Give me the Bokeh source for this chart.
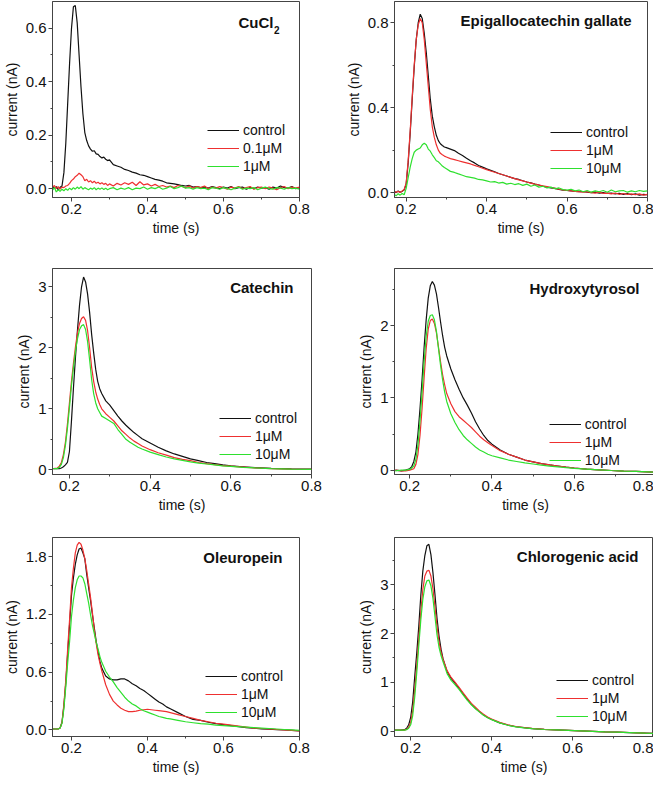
from bokeh.plotting import figure
from bokeh.layouts import gridplot
from bokeh.models import (FixedTicker, NumeralTickFormatter, Label, Legend,
                          LegendItem, Range1d)
from bokeh.embed import file_html
from bokeh.resources import INLINE

# ---------------- DATA ----------------
# Panel 1: CuCl2
cucl_t = [0.150, 0.155, 0.160, 0.165, 0.170, 0.175, 0.180, 0.185, 0.190, 0.195,
          0.200, 0.205, 0.210, 0.215, 0.220, 0.225, 0.230, 0.235, 0.240, 0.245,
          0.250, 0.255, 0.260, 0.265, 0.270, 0.275, 0.280, 0.285, 0.290, 0.295,
          0.300, 0.31, 0.32, 0.33, 0.34, 0.35, 0.36, 0.37, 0.38, 0.39,
          0.40, 0.41, 0.42, 0.43, 0.44, 0.45, 0.46, 0.47, 0.48, 0.49,
          0.50, 0.51, 0.52, 0.53, 0.54, 0.55, 0.56, 0.57, 0.58, 0.59,
          0.60, 0.61, 0.62, 0.63, 0.64, 0.65, 0.66, 0.67, 0.68, 0.69,
          0.70, 0.71, 0.72, 0.73, 0.74, 0.75, 0.76, 0.77, 0.78, 0.79,
          0.80]
cucl_control = [0.010, 0.000, 0.008, -0.005, 0.005, 0.010, 0.060, 0.170, 0.320, 0.470,
                0.600, 0.680, 0.685, 0.620, 0.500, 0.380, 0.280, 0.210, 0.180, 0.160,
                0.148, 0.140, 0.142, 0.130, 0.128, 0.120, 0.115, 0.118, 0.110, 0.105,
                0.108, 0.090, 0.085, 0.080, 0.072, 0.068, 0.062, 0.058, 0.052, 0.050,
                0.045, 0.040, 0.035, 0.032, 0.028, 0.022, 0.020, 0.018, 0.015, 0.012,
                0.010, 0.012, 0.006, 0.008, 0.004, 0.006, 0.002, 0.008, 0.004, 0.000,
                0.006, 0.002, 0.008, 0.000, 0.004, 0.006, -0.002, 0.004, 0.000, 0.006,
                0.002, 0.004, -0.002, 0.006, 0.002, 0.010, 0.004, 0.002, 0.008, 0.000,
                0.004]
cucl_01uM = [0.005, 0.012, 0.000, 0.008, -0.002, 0.006, 0.004, 0.010, 0.012, 0.020,
             0.030, 0.036, 0.045, 0.050, 0.058, 0.052, 0.045, 0.030, 0.035, 0.025,
             0.030, 0.022, 0.028, 0.020, 0.024, 0.018, 0.022, 0.016, 0.020, 0.012,
             0.018, 0.010, 0.020, 0.014, 0.022, 0.016, 0.024, 0.012, 0.026, 0.014,
             0.018, 0.010, 0.016, 0.008, 0.012, 0.006, 0.010, 0.004, 0.012, 0.008,
             0.004, 0.010, 0.002, 0.008, 0.004, 0.010, 0.000, 0.006, 0.002, 0.008,
             0.004, -0.002, 0.006, 0.002, 0.008, 0.000, 0.004, 0.008, -0.002, 0.004,
             0.006, 0.000, 0.006, 0.002, -0.004, 0.004, 0.008, 0.000, 0.006, 0.002,
             0.006]
cucl_1uM = [-0.005, 0.004, -0.012, -0.004, -0.010, -0.002, -0.008, 0.000, -0.006, 0.002,
            -0.004, 0.004, -0.002, 0.006, 0.000, 0.008, -0.002, 0.004, 0.000, -0.004,
            0.002, -0.002, 0.004, -0.004, 0.002, -0.002, 0.003, -0.003, 0.002, -0.004,
            0.000, 0.004, -0.004, 0.002, -0.002, 0.004, -0.004, 0.002, 0.000, 0.006,
            -0.002, 0.004, 0.000, 0.006, -0.002, 0.002, 0.008, 0.000, 0.004, 0.010,
            0.002, 0.004, -0.002, 0.004, 0.000, 0.002, -0.004, 0.004, 0.002, -0.002,
            0.004, 0.000, -0.004, 0.002, 0.006, -0.002, 0.002, 0.000, 0.004, -0.004,
            0.002, 0.006, 0.000, -0.002, 0.004, 0.002, -0.002, 0.004, 0.000, 0.002,
            -0.002]

# Panel 2: Epigallocatechin gallate
egcg_t = [0.170, 0.175, 0.180, 0.185, 0.190, 0.195, 0.200, 0.205, 0.210, 0.215,
          0.220, 0.225, 0.230, 0.235, 0.240, 0.245, 0.250, 0.255, 0.260, 0.265,
          0.270, 0.275, 0.280, 0.285, 0.290, 0.295, 0.300, 0.31, 0.32, 0.33,
          0.34, 0.35, 0.36, 0.37, 0.38, 0.39, 0.40, 0.41, 0.42, 0.43,
          0.44, 0.45, 0.46, 0.47, 0.48, 0.49, 0.50, 0.51, 0.52, 0.53,
          0.54, 0.55, 0.56, 0.57, 0.58, 0.59, 0.60, 0.61, 0.62, 0.63,
          0.64, 0.65, 0.66, 0.67, 0.68, 0.69, 0.70, 0.71, 0.72, 0.73,
          0.74, 0.75, 0.76, 0.77, 0.78, 0.79, 0.80]
egcg_control = [0.005, 0.000, 0.008, 0.002, 0.006, 0.012, 0.040, 0.140, 0.280, 0.440,
                0.590, 0.720, 0.800, 0.840, 0.820, 0.750, 0.660, 0.550, 0.440, 0.360,
                0.310, 0.270, 0.245, 0.230, 0.222, 0.215, 0.212, 0.205, 0.198, 0.185,
                0.175, 0.162, 0.150, 0.140, 0.128, 0.120, 0.112, 0.105, 0.098, 0.090,
                0.084, 0.078, 0.072, 0.066, 0.062, 0.056, 0.050, 0.046, 0.040, 0.036,
                0.030, 0.026, 0.022, 0.020, 0.015, 0.012, 0.010, 0.008, 0.006, 0.004,
                0.005, 0.002, 0.000, 0.002, -0.002, 0.000, -0.004, -0.002, -0.006, -0.003,
                -0.008, -0.004, -0.010, -0.006, -0.012, -0.008, -0.010]
egcg_1uM = [0.005, 0.002, 0.006, 0.000, 0.008, 0.015, 0.045, 0.150, 0.290, 0.450,
            0.600, 0.720, 0.790, 0.820, 0.800, 0.720, 0.610, 0.500, 0.390, 0.310,
            0.260, 0.225, 0.200, 0.185, 0.178, 0.172, 0.168, 0.160, 0.155, 0.150,
            0.145, 0.140, 0.135, 0.128, 0.122, 0.115, 0.108, 0.102, 0.096, 0.090,
            0.084, 0.078, 0.072, 0.066, 0.060, 0.055, 0.050, 0.045, 0.040, 0.036,
            0.032, 0.028, 0.024, 0.020, 0.016, 0.013, 0.010, 0.008, 0.006, 0.004,
            0.002, 0.004, 0.000, -0.002, 0.002, -0.004, -0.002, -0.006, -0.002, -0.008,
            -0.004, -0.008, -0.006, -0.010, -0.006, -0.012, -0.008]
egcg_10uM = [-0.008, -0.015, -0.005, -0.012, -0.004, -0.010, 0.020, 0.070, 0.120, 0.160,
             0.190, 0.200, 0.205, 0.210, 0.225, 0.232, 0.225, 0.205, 0.195, 0.178,
             0.165, 0.150, 0.145, 0.135, 0.125, 0.118, 0.112, 0.100, 0.095, 0.088,
             0.082, 0.075, 0.072, 0.068, 0.062, 0.060, 0.055, 0.050, 0.052, 0.045,
             0.048, 0.040, 0.044, 0.038, 0.042, 0.034, 0.040, 0.030, 0.036, 0.026,
             0.030, 0.022, 0.026, 0.018, 0.022, 0.014, 0.012, 0.016, 0.008, 0.012,
             0.004, 0.010, 0.002, 0.008, 0.004, 0.010, 0.002, 0.012, 0.004, 0.008,
             0.010, 0.002, 0.008, 0.004, 0.010, 0.006, 0.008]

# Panel 3: Catechin
cat_t = [0.160, 0.170, 0.175, 0.180, 0.185, 0.190, 0.195, 0.200, 0.205, 0.210,
         0.215, 0.220, 0.225, 0.230, 0.235, 0.240, 0.245, 0.250, 0.255, 0.260,
         0.265, 0.270, 0.275, 0.280, 0.290, 0.300, 0.310, 0.320, 0.330, 0.340,
         0.350, 0.360, 0.370, 0.380, 0.400, 0.420, 0.440, 0.460, 0.480, 0.500,
         0.520, 0.540, 0.560, 0.580, 0.600, 0.630, 0.660, 0.700, 0.750, 0.800]
cat_control = [0.02, 0.02, 0.02, 0.03, 0.05, 0.08, 0.12, 0.30, 0.80, 1.35,
               1.85, 2.30, 2.70, 3.00, 3.16, 3.08, 2.88, 2.58, 2.22, 1.92,
               1.65, 1.45, 1.33, 1.25, 1.13, 1.06, 0.97, 0.88, 0.80, 0.73,
               0.67, 0.61, 0.56, 0.51, 0.44, 0.37, 0.31, 0.26, 0.22, 0.18,
               0.15, 0.12, 0.10, 0.08, 0.065, 0.05, 0.035, 0.025, 0.015, 0.01]
cat_1uM = [0.02, 0.03, 0.06, 0.12, 0.25, 0.45, 0.75, 1.10, 1.45, 1.75,
           2.02, 2.25, 2.40, 2.48, 2.51, 2.45, 2.28, 2.00, 1.68, 1.45,
           1.28, 1.16, 1.07, 1.00, 0.92, 0.86, 0.80, 0.72, 0.64, 0.58,
           0.52, 0.47, 0.43, 0.39, 0.33, 0.28, 0.24, 0.20, 0.17, 0.15,
           0.12, 0.10, 0.085, 0.07, 0.06, 0.045, 0.03, 0.02, 0.012, 0.008]
cat_10uM = [0.02, 0.02, 0.04, 0.09, 0.20, 0.40, 0.68, 1.02, 1.38, 1.68,
            1.95, 2.15, 2.30, 2.36, 2.38, 2.30, 2.10, 1.80, 1.48, 1.25,
            1.10, 1.00, 0.94, 0.88, 0.84, 0.80, 0.76, 0.66, 0.58, 0.50,
            0.45, 0.41, 0.37, 0.34, 0.29, 0.25, 0.21, 0.18, 0.155, 0.13,
            0.11, 0.095, 0.08, 0.065, 0.055, 0.04, 0.03, 0.02, 0.012, 0.008]

# Panel 4: Hydroxytyrosol
hyd_t = [0.165, 0.180, 0.190, 0.200, 0.205, 0.210, 0.215, 0.220, 0.225, 0.230,
         0.235, 0.240, 0.245, 0.250, 0.255, 0.260, 0.265, 0.270, 0.275, 0.280,
         0.285, 0.290, 0.300, 0.310, 0.320, 0.330, 0.340, 0.350, 0.360, 0.370,
         0.380, 0.390, 0.400, 0.420, 0.440, 0.460, 0.480, 0.500, 0.520, 0.540,
         0.560, 0.580, 0.600, 0.630, 0.660, 0.690, 0.720, 0.750, 0.780, 0.800]
hyd_control = [0.00, -0.01, 0.00, 0.02, 0.05, 0.12, 0.25, 0.50, 0.85, 1.25,
               1.70, 2.08, 2.38, 2.55, 2.61, 2.56, 2.44, 2.25, 2.05, 1.86,
               1.70, 1.58, 1.40, 1.25, 1.12, 1.00, 0.90, 0.79, 0.67, 0.57,
               0.48, 0.41, 0.36, 0.28, 0.22, 0.18, 0.14, 0.115, 0.09, 0.072,
               0.058, 0.042, 0.03, 0.015, 0.005, -0.005, -0.012, -0.018, -0.025, -0.03]
hyd_1uM = [0.00, -0.01, -0.01, 0.00, 0.01, 0.02, 0.08, 0.22, 0.48, 0.85,
           1.28, 1.68, 1.95, 2.07, 2.09, 2.03, 1.90, 1.70, 1.50, 1.32,
           1.18, 1.06, 0.92, 0.81, 0.74, 0.69, 0.64, 0.59, 0.53, 0.47,
           0.42, 0.38, 0.34, 0.27, 0.22, 0.18, 0.14, 0.115, 0.09, 0.072,
           0.058, 0.042, 0.03, 0.015, 0.005, -0.005, -0.012, -0.018, -0.025, -0.03]
hyd_10uM = [-0.01, 0.00, 0.00, 0.01, 0.03, 0.06, 0.15, 0.35, 0.68, 1.08,
            1.50, 1.85, 2.06, 2.14, 2.15, 2.08, 1.92, 1.68, 1.45, 1.25,
            1.08, 0.95, 0.78, 0.66, 0.56, 0.48, 0.42, 0.37, 0.32, 0.28,
            0.25, 0.22, 0.20, 0.17, 0.14, 0.12, 0.10, 0.085, 0.07, 0.055,
            0.045, 0.035, 0.025, 0.015, 0.005, -0.005, -0.012, -0.018, -0.025, -0.03]

# Panel 5: Oleuropein
ole_t = [0.150, 0.165, 0.170, 0.175, 0.180, 0.185, 0.190, 0.195, 0.200, 0.205,
         0.210, 0.215, 0.220, 0.225, 0.230, 0.235, 0.240, 0.245, 0.250, 0.255,
         0.260, 0.265, 0.270, 0.275, 0.280, 0.290, 0.300, 0.310, 0.320, 0.330,
         0.340, 0.350, 0.360, 0.370, 0.380, 0.390, 0.400, 0.410, 0.420, 0.430,
         0.440, 0.450, 0.460, 0.480, 0.500, 0.520, 0.540, 0.560, 0.580, 0.600,
         0.620, 0.640, 0.660, 0.680, 0.700, 0.720, 0.740, 0.760, 0.780, 0.800]
ole_control = [0.01, 0.01, 0.02, 0.08, 0.25, 0.49, 0.80, 1.10, 1.40, 1.58,
               1.72, 1.82, 1.88, 1.89, 1.84, 1.78, 1.62, 1.48, 1.35, 1.20,
               1.06, 0.92, 0.81, 0.71, 0.64, 0.56, 0.53, 0.52, 0.52, 0.53,
               0.53, 0.51, 0.48, 0.46, 0.43, 0.41, 0.38, 0.35, 0.32, 0.29,
               0.27, 0.24, 0.22, 0.18, 0.14, 0.11, 0.10, 0.08, 0.065, 0.055,
               0.045, 0.035, 0.025, 0.018, 0.012, 0.008, 0.004, 0.00, -0.005, -0.01]
ole_1uM = [0.01, 0.01, 0.02, 0.08, 0.27, 0.52, 0.85, 1.15, 1.48, 1.68,
           1.84, 1.92, 1.95, 1.93, 1.87, 1.78, 1.66, 1.52, 1.38, 1.22,
           1.04, 0.90, 0.78, 0.69, 0.61, 0.47, 0.37, 0.30, 0.26, 0.225,
           0.205, 0.19, 0.19, 0.195, 0.205, 0.21, 0.215, 0.21, 0.205, 0.20,
           0.195, 0.19, 0.18, 0.16, 0.14, 0.12, 0.10, 0.085, 0.07, 0.06,
           0.05, 0.04, 0.03, 0.02, 0.015, 0.01, 0.005, 0.00, -0.005, -0.01]
ole_10uM = [0.01, 0.01, 0.02, 0.07, 0.22, 0.45, 0.70, 0.92, 1.18, 1.35,
            1.48, 1.56, 1.60, 1.60, 1.58, 1.52, 1.42, 1.32, 1.20, 1.09,
            1.00, 0.91, 0.84, 0.76, 0.70, 0.61, 0.55, 0.50, 0.44, 0.39,
            0.34, 0.30, 0.27, 0.25, 0.22, 0.20, 0.185, 0.17, 0.155, 0.14,
            0.13, 0.12, 0.115, 0.10, 0.085, 0.075, 0.065, 0.06, 0.05, 0.045,
            0.04, 0.035, 0.03, 0.025, 0.02, 0.015, 0.01, 0.005, 0.00, -0.005]

# Panel 6: Chlorogenic acid
chl_t = [0.160, 0.175, 0.185, 0.190, 0.195, 0.200, 0.205, 0.210, 0.215, 0.220,
         0.225, 0.230, 0.235, 0.240, 0.245, 0.250, 0.255, 0.260, 0.265, 0.270,
         0.275, 0.280, 0.290, 0.300, 0.310, 0.320, 0.330, 0.340, 0.350, 0.360,
         0.370, 0.380, 0.390, 0.400, 0.420, 0.440, 0.460, 0.480, 0.500, 0.530,
         0.560, 0.590, 0.620, 0.650, 0.680, 0.710, 0.740, 0.760, 0.780, 0.800]
chl_control = [0.02, 0.02, 0.03, 0.06, 0.13, 0.28, 0.60, 1.12, 1.60, 2.15,
               2.78, 3.28, 3.60, 3.80, 3.83, 3.62, 3.25, 2.80, 2.32, 1.95,
               1.68, 1.48, 1.22, 1.08, 0.98, 0.87, 0.76, 0.65, 0.55, 0.47,
               0.40, 0.33, 0.28, 0.24, 0.17, 0.125, 0.09, 0.07, 0.05, 0.035,
               0.025, 0.015, 0.005, -0.005, -0.015, -0.022, -0.03, -0.035, -0.04, -0.045]
chl_1uM = [0.02, 0.02, 0.02, 0.04, 0.08, 0.18, 0.42, 0.85, 1.35, 1.90,
           2.45, 2.90, 3.18, 3.28, 3.30, 3.18, 2.92, 2.55, 2.15, 1.83,
           1.62, 1.47, 1.24, 1.10, 1.00, 0.89, 0.78, 0.67, 0.57, 0.49,
           0.41, 0.345, 0.29, 0.25, 0.18, 0.13, 0.095, 0.075, 0.055, 0.038,
           0.026, 0.016, 0.006, -0.004, -0.014, -0.02, -0.028, -0.034, -0.04, -0.045]
chl_10uM = [0.02, 0.02, 0.02, 0.03, 0.06, 0.13, 0.32, 0.70, 1.20, 1.75,
            2.28, 2.70, 2.96, 3.08, 3.10, 2.98, 2.72, 2.35, 1.98, 1.72,
            1.55, 1.42, 1.18, 1.04, 0.95, 0.85, 0.74, 0.63, 0.54, 0.46,
            0.39, 0.325, 0.275, 0.235, 0.17, 0.12, 0.088, 0.068, 0.05, 0.034,
            0.024, 0.014, 0.004, -0.006, -0.016, -0.022, -0.03, -0.036, -0.042, -0.047]

titles = ["CuCl", "Epigallocatechin gallate", "Catechin", "Hydroxytyrosol",
          "Oleuropein", "Chlorogenic acid"]
legend_labels_cucl = ["control", "0.1\u03bcM", "1\u03bcM"]
legend_labels = ["control", "1\u03bcM", "10\u03bcM"]
x_ticks = [0.2, 0.4, 0.6, 0.8]
x_minor = [0.3, 0.5, 0.7]

# ---------------- STYLE / LAYOUT ----------------
COLORS = ["#111111", "#ee3030", "#2ee02e"]
FONT = "Liberation Sans"

panels = [
    dict(t=cucl_t, ys=[cucl_control, cucl_01uM, cucl_1uM], labels=legend_labels_cucl,
         title=titles[0], xr=(0.150, 0.80), yr=(-0.033, 0.70),
         yt=[0.0, 0.2, 0.4, 0.6], ym=[0.1, 0.3, 0.5], yfmt="0.0",
         fw=247, fh=196, bl=47, br=30, bt=1, bb=63, leg=(92, 22), tr=20, ty=21),
    dict(t=egcg_t, ys=[egcg_control, egcg_1uM, egcg_10uM], labels=legend_labels,
         title=titles[1], xr=(0.171, 0.80), yr=(-0.023, 0.90),
         yt=[0.0, 0.4, 0.8], ym=[0.2, 0.6], yfmt="0.0",
         fw=253, fh=196, bl=65, br=6, bt=1, bb=63, leg=(97, 20), tr=16, ty=19),
    dict(t=cat_t, ys=[cat_control, cat_1uM, cat_10uM], labels=legend_labels,
         title=titles[2], xr=(0.158, 0.80), yr=(-0.077, 3.30),
         yt=[0, 1, 2, 3], ym=[0.5, 1.5, 2.5], yfmt="0",
         fw=259, fh=206, bl=35, br=30, bt=8, bb=58, leg=(92, 11.5), tr=18, ty=19),
    dict(t=hyd_t, ys=[hyd_control, hyd_1uM, hyd_10uM], labels=legend_labels,
         title=titles[3], xr=(0.163, 0.80), yr=(-0.06, 2.79),
         yt=[0, 1, 2], ym=[0.5, 1.5, 2.5], yfmt="0",
         fw=262, fh=206, bl=53, br=9, bt=8, bb=58, leg=(89, 5.5), tr=17, ty=20),
    dict(t=ole_t, ys=[ole_control, ole_1uM, ole_10uM], labels=legend_labels,
         title=titles[4], xr=(0.150, 0.80), yr=(-0.068, 2.0),
         yt=[0.0, 0.6, 1.2, 1.8], ym=[0.3, 0.9, 1.5], yfmt="0.0",
         fw=247, fh=199, bl=47, br=30, bt=5, bb=43, leg=(94, 15), tr=17, ty=20),
    dict(t=chl_t, ys=[chl_control, chl_1uM, chl_10uM], labels=legend_labels,
         title=titles[5], xr=(0.160, 0.80), yr=(-0.11, 3.97),
         yt=[0, 1, 2, 3], ym=[0.5, 1.5, 2.5, 3.5], yfmt="0",
         fw=259, fh=199, bl=57, br=8, bt=5, bb=43, leg=(97, 11.5), tr=15, ty=19),
]


def style_axis(ax, ticks, minor, fmt, label):
    ax.ticker = FixedTicker(ticks=ticks, minor_ticks=minor)
    ax.formatter = NumeralTickFormatter(format=fmt)
    ax.axis_label = label
    ax.axis_line_color = "#444444"
    ax.major_tick_line_color = "#444444"
    ax.minor_tick_line_color = "#444444"
    ax.major_tick_in = 0
    ax.major_tick_out = 4
    ax.minor_tick_in = 0
    ax.minor_tick_out = 2
    ax.major_label_standoff = 2
    ax.axis_label_standoff = 3
    ax.major_label_text_font = FONT
    ax.major_label_text_font_size = "15px"
    ax.major_label_text_color = "#111111"
    ax.axis_label_text_font = FONT
    ax.axis_label_text_font_size = "14px"
    ax.axis_label_text_font_style = "normal"
    ax.axis_label_text_color = "#111111"


figs = []
for k, P in enumerate(panels):
    p = figure(frame_width=P["fw"], frame_height=P["fh"],
               x_range=Range1d(*P["xr"]), y_range=Range1d(*P["yr"]),
               output_backend="svg", toolbar_location=None,
               min_border_left=P["bl"], min_border_right=P["br"],
               min_border_top=P["bt"], min_border_bottom=P["bb"])
    p.xgrid.visible = False
    p.ygrid.visible = False
    p.outline_line_color = "#444444"
    p.outline_line_width = 1
    p.background_fill_color = "white"
    p.border_fill_color = "white"
    style_axis(p.xaxis[0], x_ticks, x_minor, "0.0", "time (s)")
    style_axis(p.yaxis[0], P["yt"], P["ym"], P["yfmt"], "current (nA)")

    items = []
    for ys, col, lab in zip(P["ys"], COLORS, P["labels"]):
        n = min(len(P["t"]), len(ys))
        r = p.line(P["t"][:n], ys[:n], line_color=col, line_width=1.2)
        items.append(LegendItem(label=lab, renderers=[r]))
    leg = Legend(items=items, location=(P["fw"] - P["leg"][0], P["leg"][1]),
                 orientation="vertical", padding=0, margin=0, spacing=0,
                 glyph_width=32, glyph_height=18, label_height=18,
                 label_standoff=4, label_text_font=FONT,
                 label_text_font_size="14px", label_text_color="#111111",
                 background_fill_alpha=0, border_line_alpha=0)
    p.add_layout(leg)

    if k == 0:
        sub_w = 6
        p.add_layout(Label(x=P["fw"] - P["tr"] - sub_w, y=P["fh"] - P["ty"],
                           x_units="screen", y_units="screen", text=P["title"],
                           text_align="right", text_baseline="middle",
                           text_font=FONT, text_font_size="15px",
                           text_font_style="bold", text_color="#111111"))
        p.add_layout(Label(x=P["fw"] - P["tr"] - sub_w + 0.5,
                           y=P["fh"] - P["ty"] - 7,
                           x_units="screen", y_units="screen", text="2",
                           text_align="left", text_baseline="middle",
                           text_font=FONT, text_font_size="10px",
                           text_font_style="bold", text_color="#111111"))
    else:
        p.add_layout(Label(x=P["fw"] - P["tr"], y=P["fh"] - P["ty"],
                           x_units="screen", y_units="screen", text=P["title"],
                           text_align="right", text_baseline="middle",
                           text_font=FONT, text_font_size="15px",
                           text_font_style="bold", text_color="#111111"))
    figs.append(p)

grid = gridplot([[figs[0], figs[1]], [figs[2], figs[3]], [figs[4], figs[5]]],
                toolbar_location=None)

open("out.html", "w").write(file_html(grid, INLINE))
